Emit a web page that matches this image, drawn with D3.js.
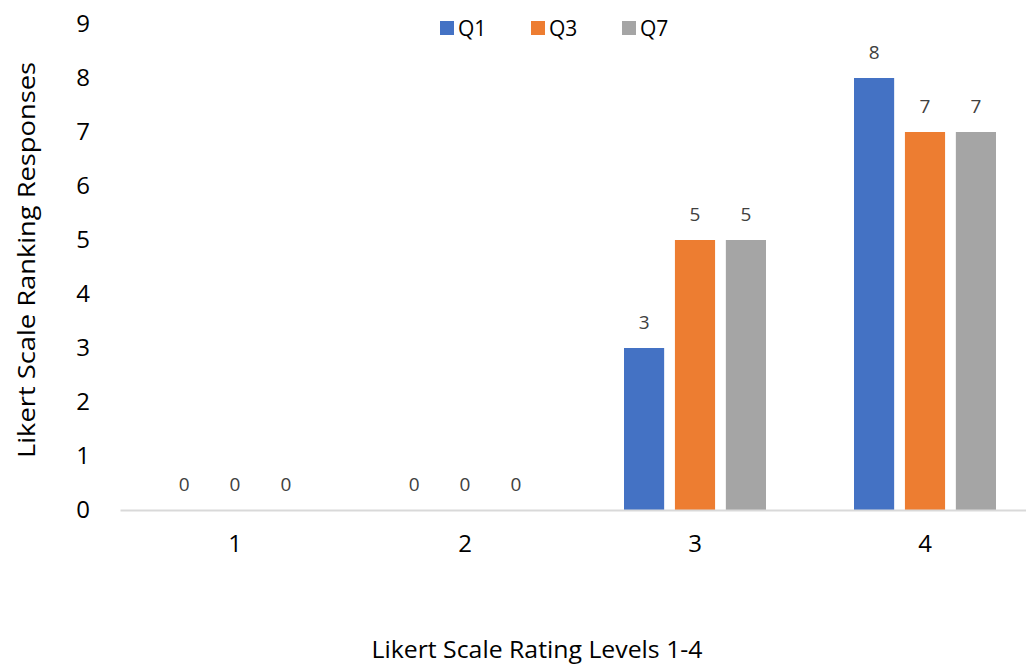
<!DOCTYPE html>
<html><head><meta charset="utf-8">
<script src="https://cdn.jsdelivr.net/npm/d3@7"></script>
<style>body{margin:0;background:#fff;}text{font-family:"Open Sans","Liberation Sans",sans-serif;}</style>
</head><body><svg id="c" width="1026" height="666"></svg>
<script>
const categories = ["1","2","3","4"];
const seriesNames = ["Q1","Q3","Q7"];
const Q1 = [0,0,3,8];
const Q3 = [0,0,5,7];
const Q7 = [0,0,5,7];
const yTicks = [0,1,2,3,4,5,6,7,8,9];
const colors = ["#4472C4","#ED7D31","#A5A5A5"];
const seriesValues = [Q1,Q3,Q7];

(function(){
const svg = d3.select("#c");
const mLeft = 120, mRight = 1040, mTop = 24, mBottom = 510;
const x = d3.scaleBand().domain(categories).range([mLeft,mRight]).paddingInner(0).paddingOuter(0);
const x1 = d3.scaleBand().domain(seriesNames).range([0,142]).paddingInner(0.2115).paddingOuter(0);
const groupOff = (x.bandwidth()-142)/2;
const y = d3.scaleLinear().domain([0,9]).range([mBottom,mTop]);

// bars
seriesNames.forEach((s,si)=>{
  const g = svg.append("g");
  g.selectAll("rect").data(categories).join("rect")
    .attr("x",c=>x(c)+groupOff+x1(s))
    .attr("width",x1.bandwidth())
    .attr("y",(c,i)=>y(seriesValues[si][i]))
    .attr("height",(c,i)=>y(0)-y(seriesValues[si][i]))
    .attr("fill",colors[si]);
  g.selectAll("text").data(categories).join("text")
    .attr("x",c=>x(c)+groupOff+x1(s)+x1.bandwidth()/2)
    .attr("y",(c,i)=>y(seriesValues[si][i])-19)
    .attr("text-anchor","middle")
    .attr("font-size",19)
    .attr("fill","#404040")
    .text((c,i)=>seriesValues[si][i]);
});

// x axis
const xa = svg.append("g").attr("transform",`translate(0,${mBottom})`)
  .call(d3.axisBottom(x).tickSize(0).tickPadding(25));
xa.select(".domain").attr("stroke","#d9d9d9").attr("stroke-width",2);
xa.selectAll("text").attr("font-size",24).attr("fill","#000").attr("font-family","Open Sans, sans-serif");

// y axis
const ya = svg.append("g").attr("transform",`translate(${mLeft},0)`)
  .call(d3.axisLeft(y).tickValues(yTicks).tickSize(0).tickPadding(30));
ya.select(".domain").remove();
ya.selectAll("text").attr("font-size",24).attr("fill","#000").attr("font-family","Open Sans, sans-serif");

// titles
svg.append("text").attr("transform","translate(35,260) rotate(-90)")
  .attr("text-anchor","middle").attr("font-size",24).attr("fill","#000")
  .attr("textLength",396).attr("lengthAdjust","spacingAndGlyphs")
  .text("Likert Scale Ranking Responses");
svg.append("text").attr("x",537).attr("y",658)
  .attr("text-anchor","middle").attr("font-size",24).attr("fill","#000")
  .attr("textLength",331).attr("lengthAdjust","spacingAndGlyphs")
  .text("Likert Scale Rating Levels 1-4");

// legend
const legX = [440,531,622];
seriesNames.forEach((s,i)=>{
  svg.append("rect").attr("x",legX[i]).attr("y",21).attr("width",14).attr("height",14).attr("fill",colors[i]);
  svg.append("text").attr("x",legX[i]+18).attr("y",36).attr("font-size",21).attr("fill","#000").text(s);
});
})();
</script></body></html>
